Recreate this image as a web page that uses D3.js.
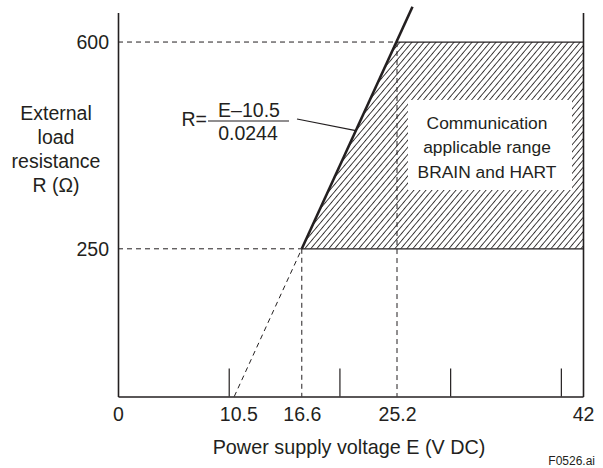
<!DOCTYPE html>
<html>
<head>
<meta charset="utf-8">
<script src="https://cdn.jsdelivr.net/npm/d3@7/dist/d3.min.js"></script>
<style>
  html, body { margin: 0; padding: 0; background: #fff; }
  svg { display: block; }
  text { font-family: "Liberation Sans", Arial, sans-serif; fill: #231f20; }
</style>
</head>
<body>
<svg id="chart" width="603" height="468"></svg>
<script>
// Supply voltage (V DC) and load resistance (ohm) reference values
const voltageTicks = [10, 20, 30, 40];             // unlabeled axis ticks
const voltageLabels = [0, 10.5, 16.6, 25.2, 42];   // labeled voltages
const resistanceLabels = [250, 600];               // labeled resistances
const voltageDomain = [0, 42];
const resistanceDomain = [0, 650];

// R = (E - 10.5) / 0.0244
const offsetVoltage = 10.5;
const slopeFactor = 0.0244;
const rMin = 250;           // lower limit of communication range
const rMax = 600;           // upper limit of communication range
const eAtRMin = 16.6;       // voltage at R = 250
const eAtRMax = 25.2;       // voltage at R = 600
const eMax = 42;            // maximum supply voltage
const eLineEnd = 26.6;      // where the drawn load line stops
const rLeader = 450;        // point on the load line that the formula points at

const boxLines = ["Communication", "applicable range", "BRAIN and HART"];
const yTitleLines = ["External", "load", "resistance", "R (\u03A9)"];

const ink = "#231f20";
const font = "'Liberation Sans', Arial, sans-serif";
const svg = d3.select("#chart");

const x = d3.scaleLinear().domain(voltageDomain).range([118, 583]);
const y = d3.scaleLinear().domain(resistanceDomain).range([396.5, 12.5]);
const loadR = e => (e - offsetVoltage) / slopeFactor;

// hatch pattern for the applicable region
const defs = svg.append("defs");
const pat = defs.append("pattern")
  .attr("id", "hatch")
  .attr("patternUnits", "userSpaceOnUse")
  .attr("width", 4.6).attr("height", 4.6)
  .attr("patternTransform", "rotate(40)");
pat.append("line")
  .attr("x1", 2.3).attr("y1", -1).attr("x2", 2.3).attr("y2", 5.6)
  .attr("stroke", ink).attr("stroke-width", 0.85);

// communication applicable region
const region = [[eAtRMin, rMin], [eAtRMax, rMax], [eMax, rMax], [eMax, rMin]];
svg.append("path")
  .attr("d", d3.line().x(d => x(d[0])).y(d => y(d[1]))(region) + "Z")
  .attr("fill", "url(#hatch)");

// solid edges of the region
svg.append("line")
  .attr("x1", x(eAtRMax)).attr("x2", x(eMax))
  .attr("y1", y(rMax)).attr("y2", y(rMax))
  .attr("stroke", ink).attr("stroke-width", 1.2);
svg.append("line")
  .attr("x1", x(eAtRMin)).attr("x2", x(eMax))
  .attr("y1", y(rMin)).attr("y2", y(rMin))
  .attr("stroke", ink).attr("stroke-width", 1.2);

// dashed guide lines
const dash = "5,4";
const guides = [
  [[0, rMax], [eAtRMax, rMax]],
  [[0, rMin], [eAtRMin, rMin]],
  [[eAtRMin, rMin], [eAtRMin, 0]],
  [[eAtRMax, rMax], [eAtRMax, 0]],
  [[offsetVoltage, 0], [eAtRMin, loadR(eAtRMin)]]
];
svg.append("g").selectAll("line").data(guides).join("line")
  .attr("x1", d => x(d[0][0])).attr("y1", d => y(d[0][1]))
  .attr("x2", d => x(d[1][0])).attr("y2", d => y(d[1][1]))
  .attr("stroke", ink).attr("stroke-width", 1)
  .attr("stroke-dasharray", dash);

// white label box
const box = { x: 408, y: 100, w: 164, h: 90 };
svg.append("rect")
  .attr("x", box.x).attr("y", box.y).attr("width", box.w).attr("height", box.h)
  .attr("fill", "#fff");
svg.append("g").selectAll("text").data(boxLines).join("text")
  .attr("x", 487).attr("y", (d, i) => 129 + i * 24.3)
  .attr("text-anchor", "middle")
  .attr("font-size", 17.4)
  .text(d => d);

// load line
svg.append("line")
  .attr("x1", x(eAtRMin)).attr("y1", y(loadR(eAtRMin)))
  .attr("x2", x(eLineEnd)).attr("y2", y(loadR(eLineEnd)))
  .attr("stroke", ink).attr("stroke-width", 2.6);

// axes
const xTickAxis = d3.axisBottom(x).tickValues(voltageTicks)
  .tickSize(-28).tickSizeOuter(0).tickFormat("");
const gx = svg.append("g").attr("transform", `translate(0,${y(0)})`).call(xTickAxis);
gx.selectAll("line").attr("stroke", ink).attr("stroke-width", 1.2);
gx.select(".domain").attr("stroke", ink).attr("stroke-width", 1.6);

const xLabelAxis = d3.axisBottom(x).tickValues(voltageLabels)
  .tickSize(0).tickPadding(11).tickFormat(d => String(d));
const gxl = svg.append("g").attr("transform", `translate(0,${y(0)})`).call(xLabelAxis);
gxl.select(".domain").remove();
gxl.selectAll("text")
  .attr("dx", d => d === offsetVoltage ? 4 : 0)
  .attr("font-size", 19.5).attr("fill", ink)
  .style("font-family", font);

const yAxis = d3.axisLeft(y).tickValues(resistanceLabels)
  .tickSize(0).tickSizeOuter(0).tickPadding(9).tickFormat(d => String(d));
const gy = svg.append("g").attr("transform", `translate(${x(0)},0)`).call(yAxis);
gy.select(".domain").attr("stroke", ink).attr("stroke-width", 1.6);
gy.selectAll("text").attr("font-size", 19.5).attr("fill", ink)
  .style("font-family", font);

const yRight = d3.axisRight(y).tickValues([]).tickSizeOuter(0);
const gr = svg.append("g").attr("transform", `translate(${x(eMax)},0)`).call(yRight);
gr.select(".domain").attr("stroke", ink).attr("stroke-width", 1.6);

// y-axis title
svg.append("g").selectAll("text").data(yTitleLines).join("text")
  .attr("x", 56).attr("y", (d, i) => 120 + i * 24)
  .attr("text-anchor", "middle")
  .attr("font-size", 19.5)
  .text(d => d);

// x-axis title
svg.append("text")
  .attr("x", 349).attr("y", 454)
  .attr("text-anchor", "middle")
  .attr("font-size", 19.8)
  .text("Power supply voltage E (V DC)");

// formula
svg.append("text").attr("x", 207).attr("y", 126)
  .attr("text-anchor", "end").attr("font-size", 19.5).text("R=");
svg.append("text").attr("x", 249).attr("y", 117)
  .attr("text-anchor", "middle").attr("font-size", 19.5).text("E\u201310.5");
svg.append("line").attr("x1", 208).attr("x2", 289).attr("y1", 121).attr("y2", 121)
  .attr("stroke", ink).attr("stroke-width", 1.1);
svg.append("text").attr("x", 248).attr("y", 140)
  .attr("text-anchor", "middle").attr("font-size", 19.5).text("0.0244");

// leader from formula to the load line
const eLeader = offsetVoltage + rLeader * slopeFactor;
svg.append("line")
  .attr("x1", 297).attr("y1", 119)
  .attr("x2", x(eLeader)).attr("y2", y(rLeader))
  .attr("stroke", ink).attr("stroke-width", 1.1);

// figure id
svg.append("text").attr("x", 595).attr("y", 465)
  .attr("text-anchor", "end").attr("font-size", 12).text("F0526.ai");
</script>
</body>
</html>
